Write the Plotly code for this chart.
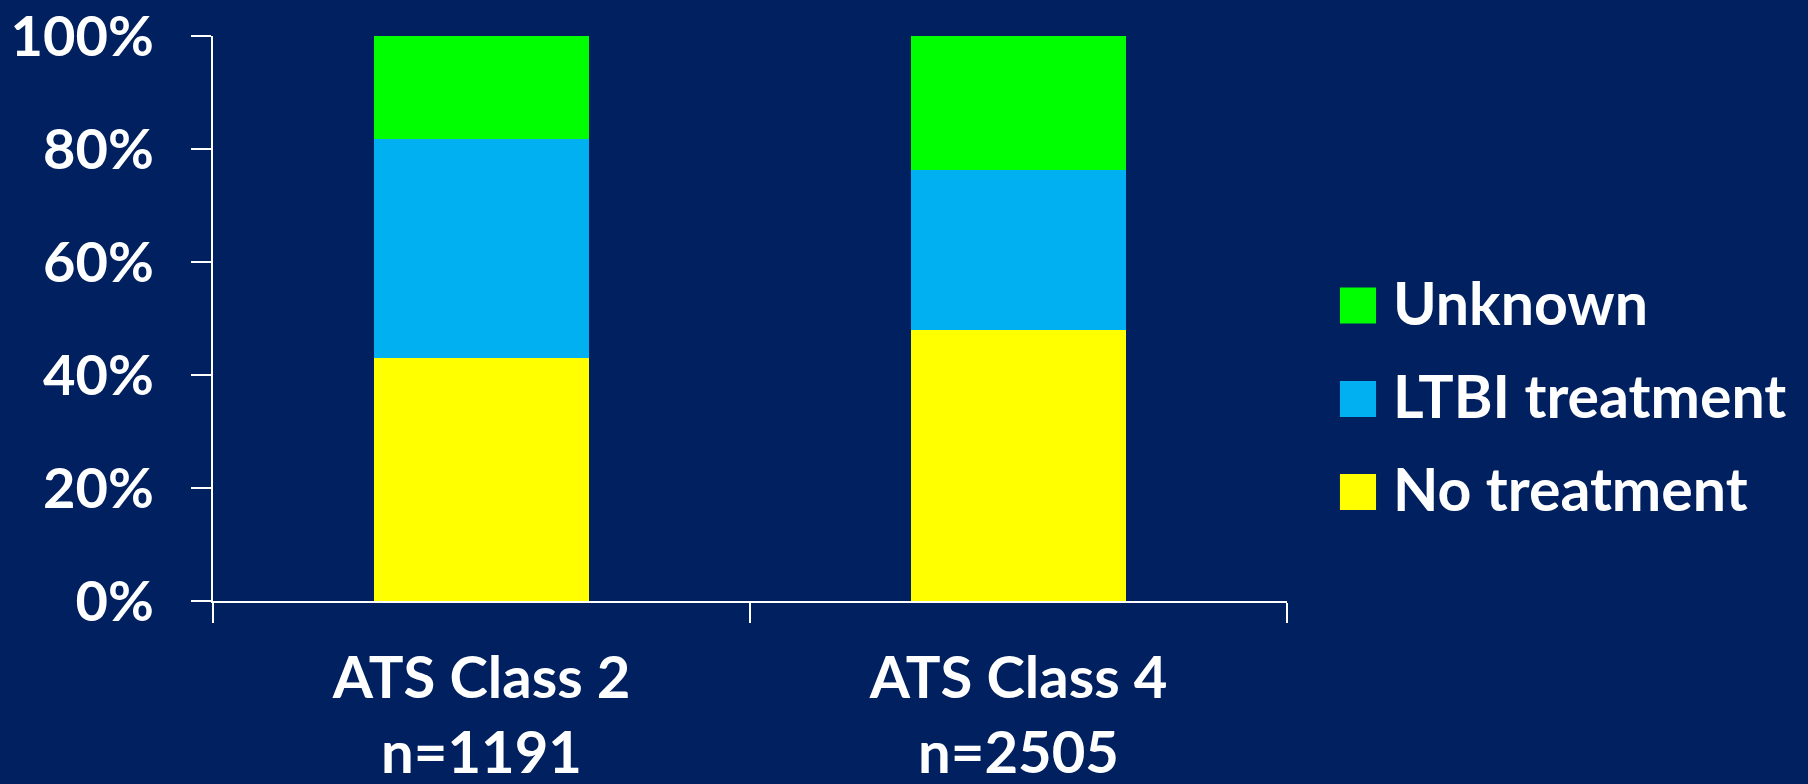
import plotly.graph_objects as go

categories = ["ATS Class 2<br>n=1191", "ATS Class 4<br>n=2505"]
series_names = ["No treatment", "LTBI treatment", "Unknown"]
no_treatment = [43.0, 48.0]
ltbi_treatment = [38.7, 28.3]
unknown = [18.3, 23.7]
series_values = [no_treatment, ltbi_treatment, unknown]
series_colors = ["#FFFF00", "#00B0F0", "#00FF00"]
y_tick_values = [0, 20, 40, 60, 80, 100]
y_tick_labels = ["0%", "20%", "40%", "60%", "80%", "100%"]

BG = "#002060"
FONT = "Lato"

fig = go.Figure()
for name, vals, col in zip(series_names, series_values, series_colors):
    fig.add_trace(go.Bar(
        x=categories, y=vals, name=name,
        marker=dict(color=col, line=dict(width=0)),
        showlegend=False,
    ))

fig.update_layout(
    width=1808, height=784,
    barmode="stack", bargap=0.6,
    paper_bgcolor=BG, plot_bgcolor=BG,
    margin=dict(l=213, r=521, t=36, b=183, autoexpand=False),
    font=dict(family=FONT, color="white"),
    showlegend=False,
)
fig.update_xaxes(
    automargin=False,
    showline=True, linecolor="white", linewidth=2,
    ticks="outside", ticklen=20, tickcolor="white", tickwidth=2,
    tickson="boundaries",
    tickfont=dict(family=FONT, size=58, color="white", weight="bold"),
    ticklabelstandoff=25,
    showgrid=False,
)
fig.update_yaxes(
    automargin=False,
    range=[0, 100],
    tickvals=y_tick_values, ticktext=y_tick_labels,
    showline=True, linecolor="white", linewidth=2,
    ticks="outside", ticklen=20, tickcolor="white", tickwidth=2,
    tickfont=dict(family=FONT, size=56, color="white", weight="bold"),
    ticklabelstandoff=26,
    showgrid=False, zeroline=False,
)

# custom legend (large square swatches), top entry = last series
legend_y = [0.193, 0.3575, 0.523]
sq_half = 18 / 565.0
for name, col, ly in zip(series_names, series_colors, legend_y):
    fig.add_shape(type="rect", xref="paper", yref="paper",
                  x0=1.0493, x1=1.0829, y0=ly - sq_half, y1=ly + sq_half,
                  fillcolor=col, line=dict(width=0))
    fig.add_annotation(xref="paper", yref="paper", x=1.0965, y=ly + 0.006,
                       text=name, showarrow=False, xanchor="left", yanchor="middle",
                       font=dict(family=FONT, size=59, color="white", weight="bold"))

fig.write_html("out.html", config={"displayModeBar": False},
               post_script="document.body.style.margin='0';")
